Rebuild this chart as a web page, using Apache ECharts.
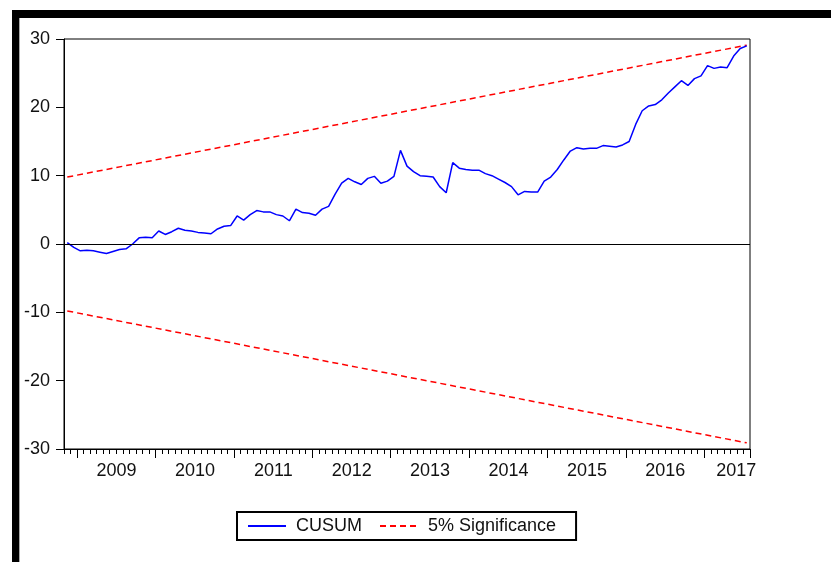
<!DOCTYPE html>
<html>
<head>
<meta charset="utf-8">
<script src="https://cdn.jsdelivr.net/npm/echarts@6/dist/echarts.min.js"></script>
<style>
html,body{margin:0;padding:0;background:#fff;}
#chart{width:831px;height:562px;}
</style>
</head>
<body>
<div id="chart"></div>
<script>
// ---- data ----
const startYear = 2008, startMonth = 11, monthCount = 105; // Nov 2008 .. Jul 2017
const yearLabels = ['2009','2010','2011','2012','2013','2014','2015','2016','2017'];
const cusum = [
  0.2, -0.5, -1.0, -0.9, -1.0, -1.2, -1.4, -1.1, -0.8, -0.7,
  0.0, 0.9, 1.0, 0.9, 1.9, 1.4, 1.8, 2.3, 2.0, 1.9,
  1.7, 1.6, 1.5, 2.2, 2.6, 2.7, 4.1, 3.5, 4.3, 4.9,
  4.7, 4.7, 4.3, 4.1, 3.4, 5.1, 4.6, 4.5, 4.2, 5.1,
  5.5, 7.3, 8.9, 9.6, 9.1, 8.7, 9.6, 9.9, 8.9, 9.2,
  9.9, 13.7, 11.4, 10.6, 10.0, 9.9, 9.8, 8.4, 7.5, 11.9,
  11.1, 10.9, 10.8, 10.8, 10.3, 10.0, 9.5, 9.0, 8.4, 7.2,
  7.7, 7.6, 7.6, 9.2, 9.8, 10.9, 12.3, 13.6, 14.1, 13.9,
  14.0, 14.0, 14.4, 14.3, 14.2, 14.5, 15.0, 17.5, 19.5, 20.2,
  20.4, 21.1, 22.1, 23.0, 23.9, 23.2, 24.2, 24.6, 26.1, 25.7,
  25.9, 25.8, 27.5, 28.6, 29.0
];
// 5% significance bounds: straight lines, value at first and last observation
const upperBound = [9.8, 29.1];
const lowerBound = [-9.8, -29.1];

// ---- categories ----
const months = [];
for (let k = 0; k < monthCount; k++) {
  const t = (startMonth - 1) + k;
  const y = startYear + Math.floor(t / 12);
  const m = (t % 12) + 1;
  months.push(y + '-' + (m < 10 ? '0' + m : '' + m));
}
const firstCat = months[0], lastCat = months[months.length - 1];

const chart = echarts.init(document.getElementById('chart'), null, {renderer: 'canvas'});
const FONT = '"Liberation Sans", Arial, sans-serif';

chart.setOption({
  animation: false,
  backgroundColor: '#ffffff',
  textStyle: {fontFamily: FONT},
  graphic: [
    {type: 'rect', shape: {x: 12, y: 10, width: 819, height: 8}, style: {fill: '#000'}, silent: true},
    {type: 'rect', shape: {x: 12, y: 10, width: 7, height: 552}, style: {fill: '#000'}, silent: true},
    {type: 'rect', shape: {x: 19, y: 18, width: 1, height: 544}, style: {fill: '#aaa'}, silent: true}
  ],
  grid: {left: 64, top: 39, width: 686, height: 410, show: true, borderColor: '#000', borderWidth: 1, backgroundColor: 'transparent'},
  legend: {
    left: 237, top: 512,
    borderColor: '#000', borderWidth: 2, borderRadius: 0,
    padding: [5, 20, 5, 10],
    itemWidth: 38, itemHeight: 14, itemGap: 17,
    itemStyle: {opacity: 0, borderWidth: 0},
    textStyle: {fontSize: 18, color: '#111', fontFamily: FONT, padding: [0, 0, 0, 5]},
    data: ['CUSUM', '5% Significance']
  },
  xAxis: [
    {
      type: 'category', data: months, boundaryGap: true,
      axisLine: {show: true, onZero: false, lineStyle: {color: '#000', width: 1}},
      axisTick: {show: true, interval: 0, length: 5, lineStyle: {color: '#000'}},
      axisLabel: {
        show: true, interval: function (i, v) {
          return v.slice(5) === '06' && yearLabels.indexOf(v.slice(0, 4)) >= 0;
        },
        margin: 13, fontSize: 18, color: '#111', fontFamily: FONT,
        formatter: function (v) {
          const yr = v.slice(0, 4);
          return yr === yearLabels[yearLabels.length - 1] ? '{l|' + yr + '}' : '{r|' + yr + '}';
        },
        rich: {
          r: {fontSize: 18, color: '#111', fontFamily: FONT, padding: [0, 0, 0, 7]},
          l: {fontSize: 18, color: '#111', fontFamily: FONT, padding: [0, 8, 0, 0]}
        }
      },
      splitLine: {show: false}
    },
    {
      type: 'category', data: months, boundaryGap: true, position: 'bottom', gridIndex: 0,
      axisLine: {show: false, onZero: false},
      axisTick: {show: true, length: 9, lineStyle: {color: '#000'},
        interval: function (i, v) { return v.slice(5) === '01'; }},
      axisLabel: {show: false},
      splitLine: {show: false}
    }
  ],
  yAxis: {
    type: 'value', min: -30, max: 30, interval: 10,
    axisLine: {show: true, lineStyle: {color: '#000', width: 1}},
    axisTick: {show: true, length: 8, lineStyle: {color: '#000'}},
    axisLabel: {fontSize: 18, color: '#111', margin: 14, fontFamily: FONT},
    splitLine: {show: false}
  },
  series: [
    {
      name: 'CUSUM', type: 'line', data: cusum, symbol: 'none',
      lineStyle: {color: '#0000ff', width: 1.5}, itemStyle: {color: '#0000ff'},
      z: 3,
      markLine: {
        silent: true, symbol: 'none', label: {show: false},
        lineStyle: {color: '#000', width: 1, type: 'solid'},
        data: [{yAxis: 0}]
      }
    },
    {
      name: '5% Significance', type: 'line', symbol: 'none',
      data: [[firstCat, upperBound[0]], [lastCat, upperBound[1]]],
      lineStyle: {color: '#ff0000', width: 1.5, type: [6, 4]}, itemStyle: {color: '#ff0000'}, z: 2
    },
    {
      name: '5% Significance', type: 'line', symbol: 'none',
      data: [[firstCat, lowerBound[0]], [lastCat, lowerBound[1]]],
      lineStyle: {color: '#ff0000', width: 1.5, type: [6, 4]}, itemStyle: {color: '#ff0000'}, z: 2
    }
  ]
});
</script>
</body>
</html>
